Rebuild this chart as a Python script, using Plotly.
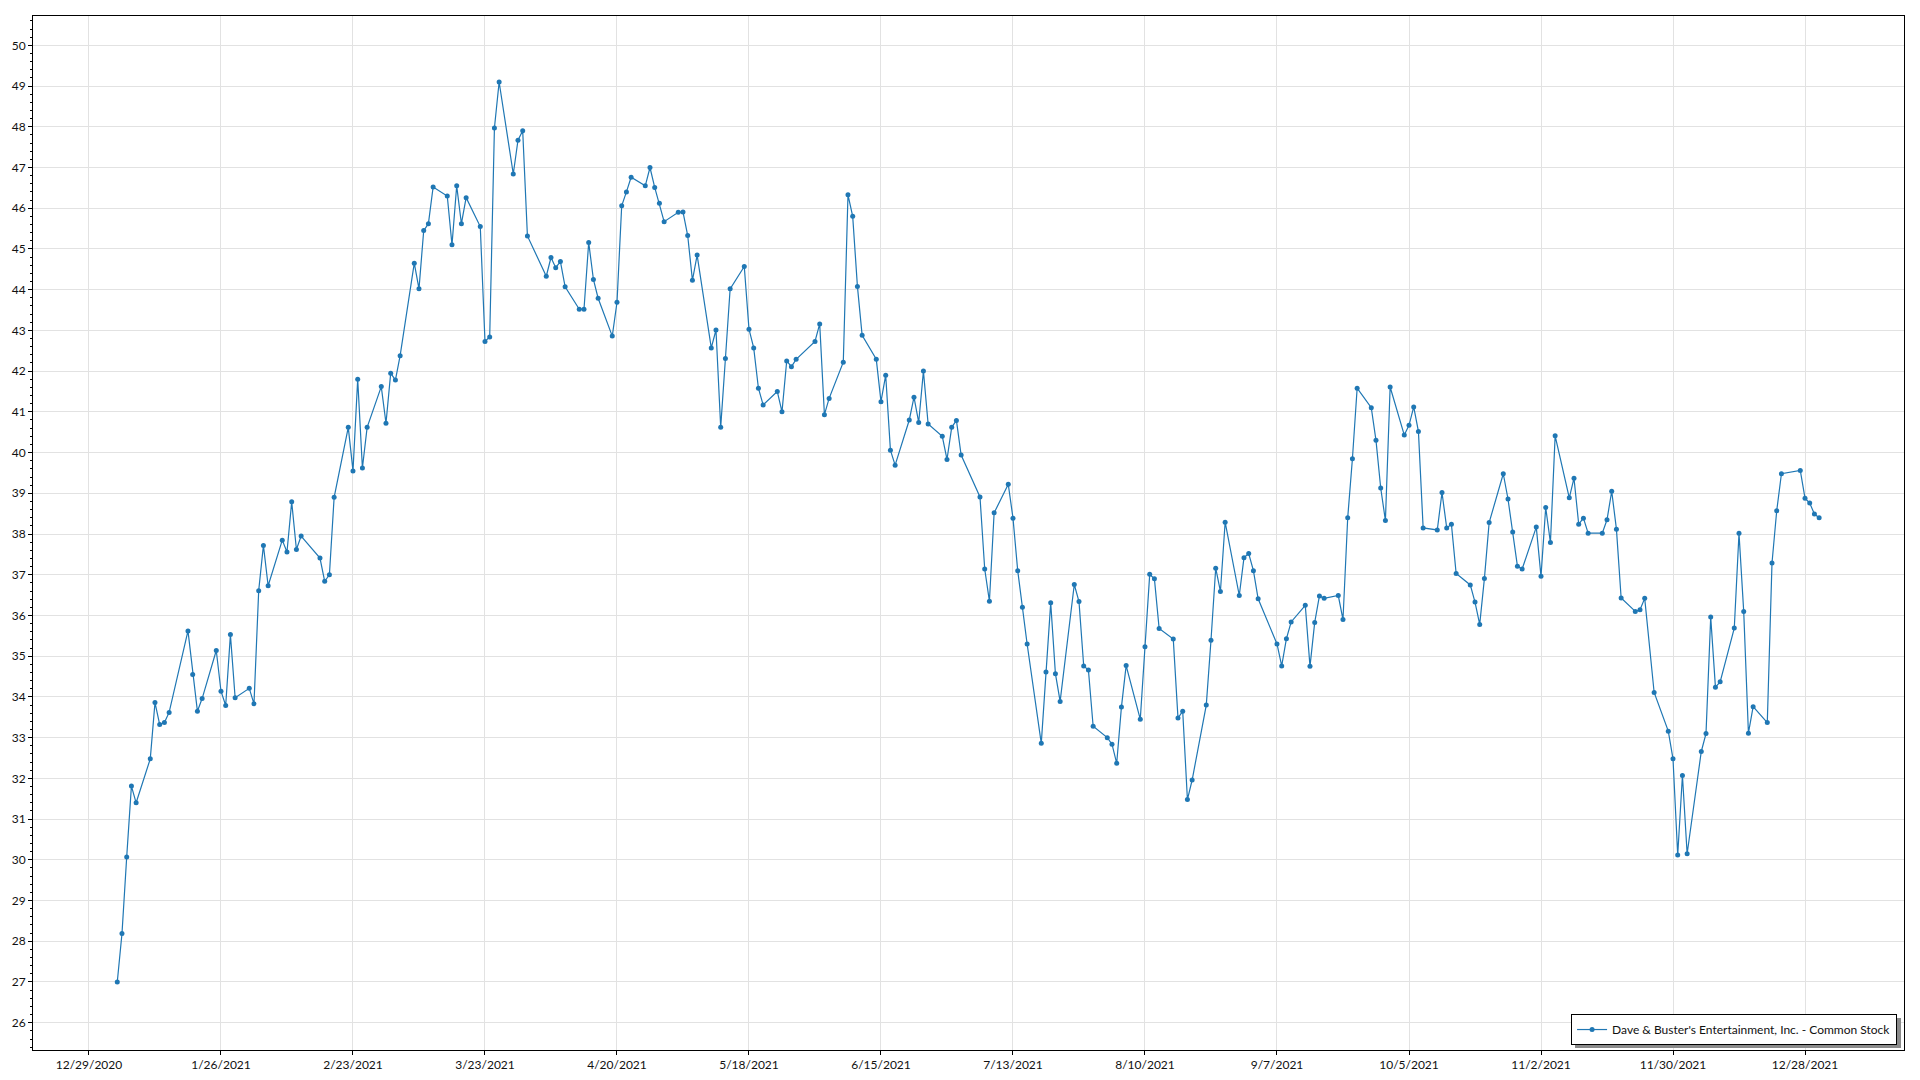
import plotly.graph_objects as go

SERIES_NAME = "Dave & Buster's Entertainment, Inc. - Common Stock"

# Trading days (day of month) and closing prices per month of 2021
jan_days = [4, 5, 6, 7, 8, 11, 12, 13, 14, 15, 19, 20, 21, 22, 25, 26, 27, 28, 29]
jan_close = [27.00, 28.19, 30.07, 31.81, 31.40, 32.48, 33.86, 33.32, 33.37, 33.62,
             35.62, 34.55, 33.65, 33.96, 35.14, 34.14, 33.79, 35.53, 33.98]

feb_days = [1, 2, 3, 4, 5, 8, 9, 10, 11, 12, 16, 17, 18, 19, 22, 23, 24, 25, 26]
feb_close = [34.21, 33.83, 36.61, 37.72, 36.73, 37.85, 37.56, 38.79, 37.62, 37.95,
             37.41, 36.84, 37.00, 38.90, 40.62, 39.55, 41.80, 39.62, 40.62]

mar_days = [1, 2, 3, 4, 5, 8, 9, 10, 11, 12, 15, 16, 17, 18, 19, 22, 23, 24, 25, 26, 29, 30, 31]
mar_close = [41.62, 40.72, 41.95, 41.78, 42.38, 44.65, 44.02, 45.45, 45.62, 46.52,
             46.30, 45.10, 46.55, 45.62, 46.26, 45.55, 42.73, 42.84, 47.97, 49.10,
             46.84, 47.67, 47.90]

apr_days = [1, 5, 6, 7, 8, 9, 12, 13, 14, 15, 16, 19, 20, 21, 22, 23, 26, 27, 28, 29, 30]
apr_close = [45.32, 44.33, 44.79, 44.54, 44.69, 44.07, 43.52, 43.52, 45.16, 44.25,
             43.79, 42.86, 43.69, 46.06, 46.40, 46.76, 46.55, 47.00, 46.51, 46.12, 45.67]

may_days = [3, 4, 5, 6, 7, 10, 11, 12, 13, 14, 17, 18, 19, 20, 21, 24, 25, 26, 27, 28]
may_close = [45.90, 45.91, 45.33, 44.23, 44.85, 42.57, 43.01, 40.62, 42.31, 44.02,
             44.57, 43.03, 42.57, 41.58, 41.17, 41.50, 41.00, 42.25, 42.11, 42.29]

jun_days = [1, 2, 3, 4, 7, 8, 9, 10, 11, 14, 15, 16, 17, 18, 21, 22, 23, 24, 25, 28, 29, 30]
jun_close = [42.73, 43.16, 40.93, 41.33, 42.22, 46.33, 45.80, 44.08, 42.88, 42.29,
             41.25, 41.90, 40.06, 39.69, 40.80, 41.36, 40.74, 42.00, 40.70, 40.40,
             39.83, 40.62]

jul_days = [1, 2, 6, 7, 8, 9, 12, 13, 14, 15, 16, 19, 20, 21, 22, 23, 26, 27, 28, 29, 30]
jul_close = [40.79, 39.94, 38.91, 37.14, 36.35, 38.52, 39.22, 38.39, 37.10, 36.20,
             35.30, 32.86, 34.61, 36.31, 34.57, 33.89, 36.76, 36.34, 34.76, 34.66, 33.28]

aug_days = [2, 3, 4, 5, 6, 9, 10, 11, 12, 13, 16, 17, 18, 19, 20, 23, 24, 25, 26, 27, 30, 31]
aug_close = [33.00, 32.84, 32.37, 33.75, 34.77, 33.45, 35.23, 37.01, 36.90, 35.68,
             35.42, 33.48, 33.65, 31.48, 31.96, 33.80, 35.39, 37.16, 36.59, 38.29,
             36.49, 37.42]

sep_days = [1, 2, 3, 7, 8, 9, 10, 13, 14, 15, 16, 17, 20, 21, 22, 23, 24, 27, 28, 29, 30]
sep_close = [37.52, 37.10, 36.41, 35.30, 34.76, 35.43, 35.84, 36.25, 34.75, 35.83,
             36.48, 36.42, 36.49, 35.90, 38.40, 39.85, 41.58, 41.10, 40.30, 39.13, 38.33]

oct_days = [1, 4, 5, 6, 7, 8, 11, 12, 13, 14, 15, 18, 19, 20, 21, 22, 25, 26, 27, 28, 29]
oct_close = [41.61, 40.43, 40.67, 41.12, 40.52, 38.15, 38.10, 39.02, 38.15, 38.24,
             37.03, 36.75, 36.33, 35.78, 36.91, 38.28, 39.48, 38.86, 38.05, 37.21, 37.14]

nov_days = [1, 2, 3, 4, 5, 8, 9, 10, 11, 12, 15, 16, 17, 18, 19, 22, 23, 24, 26, 29, 30]
nov_close = [38.17, 36.96, 38.65, 37.79, 40.41, 38.89, 39.37, 38.24, 38.39, 38.02,
             38.02, 38.35, 39.05, 38.12, 36.43, 36.10, 36.14, 36.42, 34.11, 33.16, 32.48]

dec_days = [1, 2, 3, 6, 7, 8, 9, 10, 13, 14, 15, 16, 17, 20, 21, 22, 23, 27, 28, 29, 30, 31]
dec_close = [30.12, 32.07, 30.15, 32.66, 33.10, 35.96, 34.24, 34.37, 35.69, 38.02,
             36.10, 33.11, 33.76, 33.37, 37.29, 38.57, 39.48, 39.56, 38.88, 38.76,
             38.49, 38.40]

x_tick_dates = ["2020-12-29", "2021-01-26", "2021-02-23", "2021-03-23", "2021-04-20",
                "2021-05-18", "2021-06-15", "2021-07-13", "2021-08-10", "2021-09-07",
                "2021-10-05", "2021-11-02", "2021-11-30", "2021-12-28"]
x_tick_labels = ["12/29/2020", "1/26/2021", "2/23/2021", "3/23/2021", "4/20/2021",
                 "5/18/2021", "6/15/2021", "7/13/2021", "8/10/2021", "9/7/2021",
                 "10/5/2021", "11/2/2021", "11/30/2021", "12/28/2021"]
y_tick_values = list(range(26, 51))

months = [(1, jan_days, jan_close), (2, feb_days, feb_close), (3, mar_days, mar_close),
          (4, apr_days, apr_close), (5, may_days, may_close), (6, jun_days, jun_close),
          (7, jul_days, jul_close), (8, aug_days, aug_close), (9, sep_days, sep_close),
          (10, oct_days, oct_close), (11, nov_days, nov_close), (12, dec_days, dec_close)]

dates, closes = [], []
for m, days, vals in months:
    for d, v in zip(days, vals):
        dates.append(f"2021-{m:02d}-{d:02d}")
        closes.append(v)

LINE_COLOR = "#1f77b4"
FONT = "Lato, 'Segoe UI', 'Open Sans', sans-serif"

fig = go.Figure()
fig.add_trace(go.Scatter(
    x=dates, y=closes, mode="lines+markers", name=SERIES_NAME,
    line=dict(color=LINE_COLOR, width=1.2),
    marker=dict(color=LINE_COLOR, size=5),
    showlegend=True,
))

fig.update_layout(
    width=1920, height=1080,
    margin=dict(l=33, r=16, t=16, b=30, autoexpand=False),
    paper_bgcolor="white", plot_bgcolor="white",
    font=dict(family=FONT, size=12, color="#111"),
    showlegend=True,
    legend=dict(
        x=0.9963, y=0.0048, xanchor="right", yanchor="bottom",
        bgcolor="white", bordercolor="black", borderwidth=1,
        font=dict(family=FONT, size=12, color="#111"),
        itemwidth=30,
    ),
    xaxis=dict(
        type="date", automargin=False,
        range=["2020-12-17 03:00", "2022-01-18"],
        tickmode="array", tickvals=x_tick_dates, ticktext=x_tick_labels,
        showgrid=True, gridcolor="#e2e2e2", gridwidth=1,
        showline=True, linecolor="black", linewidth=1, mirror=True,
        ticks="outside", ticklen=4, tickcolor="black",
        zeroline=False,
    ),
    yaxis=dict(
        automargin=False,
        range=[25.33, 50.72],
        tickmode="array", tickvals=y_tick_values,
        showgrid=True, gridcolor="#e2e2e2", gridwidth=1,
        showline=True, linecolor="black", linewidth=1, mirror=True,
        ticks="outside", ticklen=4, tickcolor="black",
        minor=dict(dtick=0.2, ticks="outside", ticklen=2, tickcolor="black", showgrid=False),
        zeroline=False,
    ),
    shapes=[dict(
        type="rect", xref="paper", yref="paper",
        xsizemode="pixel", ysizemode="pixel", xanchor=1, yanchor=0,
        x0=-329, x1=-3, y0=2, y1=32,
        fillcolor="#8a8a8a", line=dict(width=0), layer="above",
    )],
)

fig.write_html(
    "out.html",
    config={"displayModeBar": False},
    post_script="document.body.style.margin='0';document.body.style.overflow='hidden';",
)
